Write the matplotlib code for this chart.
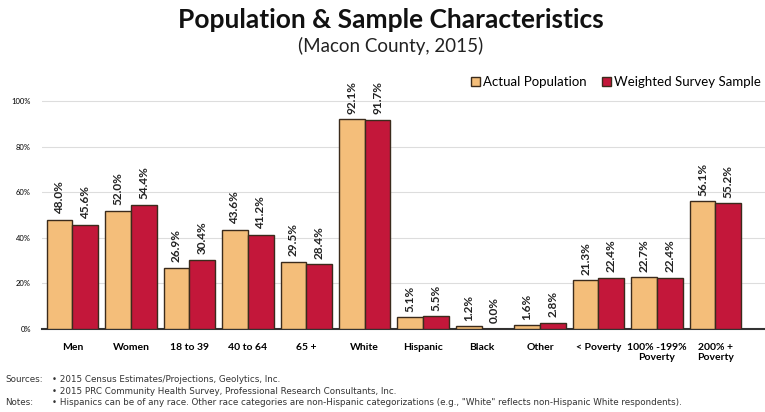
import numpy as np
import matplotlib.pyplot as plt
from matplotlib.patches import Patch

#Chart data
categories = ['Men', 'Women', '18 to 39', '40 to 64', '65 +', 'White', 'Hispanic',
              'Black', 'Other', '< Poverty', '100% -199%\nPoverty', '200% +\nPoverty']
actual = [48.0, 52.0, 26.9, 43.6, 29.5, 92.1, 5.1, 1.2, 1.6, 21.3, 22.7, 56.1]
weighted = [45.6, 54.4, 30.4, 41.2, 28.4, 91.7, 5.5, 0.0, 2.8, 22.4, 22.4, 55.2]

orange = '#F4BE7A'
red = '#C3173A'
edge = '#3b2b1c'

plt.rcParams['font.family'] = ['Lato', 'DejaVu Sans']

fig = plt.figure(figsize=(7.65, 4.12), dpi=100)
ax = fig.add_axes([0.055, 0.2015, 0.945, 0.608])

x = np.arange(len(categories))
w = 0.44
b1 = ax.bar(x - w/2, actual, w, color=orange, edgecolor=edge, linewidth=1.0, zorder=3)
b2 = ax.bar(x + w/2, weighted, w, color=red, edgecolor=edge, linewidth=1.0, zorder=3)

#Value labels above bars
for bars, vals in ((b1, actual), (b2, weighted)):
    for r, v in zip(bars, vals):
        ax.text(r.get_x() + r.get_width()/2, v + 2.5, '%.1f%%' % v, rotation=90,
                ha='center', va='bottom', fontsize=8.5, fontweight='bold', color='#222222')

ax.set_ylim(0, 110)
ax.set_xlim(-0.52, 11.85)
ax.set_yticks([0, 20, 40, 60, 80, 100])
ax.set_yticklabels(['0%', '20%', '40%', '60%', '80%', '100%'], fontsize=5.5)
ax.set_xticks(x)
ax.set_xticklabels(categories, fontsize=7.5, fontweight='bold')
ax.tick_params(axis='x', length=0, pad=10)
ax.tick_params(axis='y', length=0, pad=8)
ax.grid(axis='y', color='#dddddd', linewidth=0.8, zorder=0)
for s in ['top', 'right', 'left']:
    ax.spines[s].set_visible(False)
ax.spines['bottom'].set_color('#333333')
ax.spines['bottom'].set_linewidth(1.5)

#Title and legend
fig.text(0.511, 0.951, 'Population & Sample Characteristics', ha='center', va='center',
         fontsize=19, fontweight='bold', color='#111111')
fig.text(0.511, 0.888, '(Macon County, 2015)', ha='center', va='center', fontsize=13.5, color='#222222')

handles = [Patch(facecolor=orange, edgecolor=edge), Patch(facecolor=red, edgecolor=edge)]
fig.legend(handles, ['Actual Population', 'Weighted Survey Sample'], loc='center right',
           bbox_to_anchor=(1.01, 0.80), ncol=2, frameon=False, fontsize=9.5,
           handlelength=0.7, handleheight=0.7, handletextpad=0.2, columnspacing=1.2)

#Footnotes
fn = dict(fontsize=6.3, color='#333333', va='center', family='DejaVu Sans')
fig.text(0.007, 0.078, 'Sources:', **fn)
fig.text(0.068, 0.078, '\u2022 2015 Census Estimates/Projections, Geolytics, Inc.', **fn)
fig.text(0.068, 0.050, '\u2022 2015 PRC Community Health Survey, Professional Research Consultants, Inc.', **fn)
fig.text(0.007, 0.024, 'Notes:', **fn)
fig.text(0.068, 0.024, '\u2022 Hispanics can be of any race. Other race categories are non-Hispanic categorizations (e.g., "White" reflects non-Hispanic White respondents).', **fn)

fig.savefig('out.png', dpi=100)
